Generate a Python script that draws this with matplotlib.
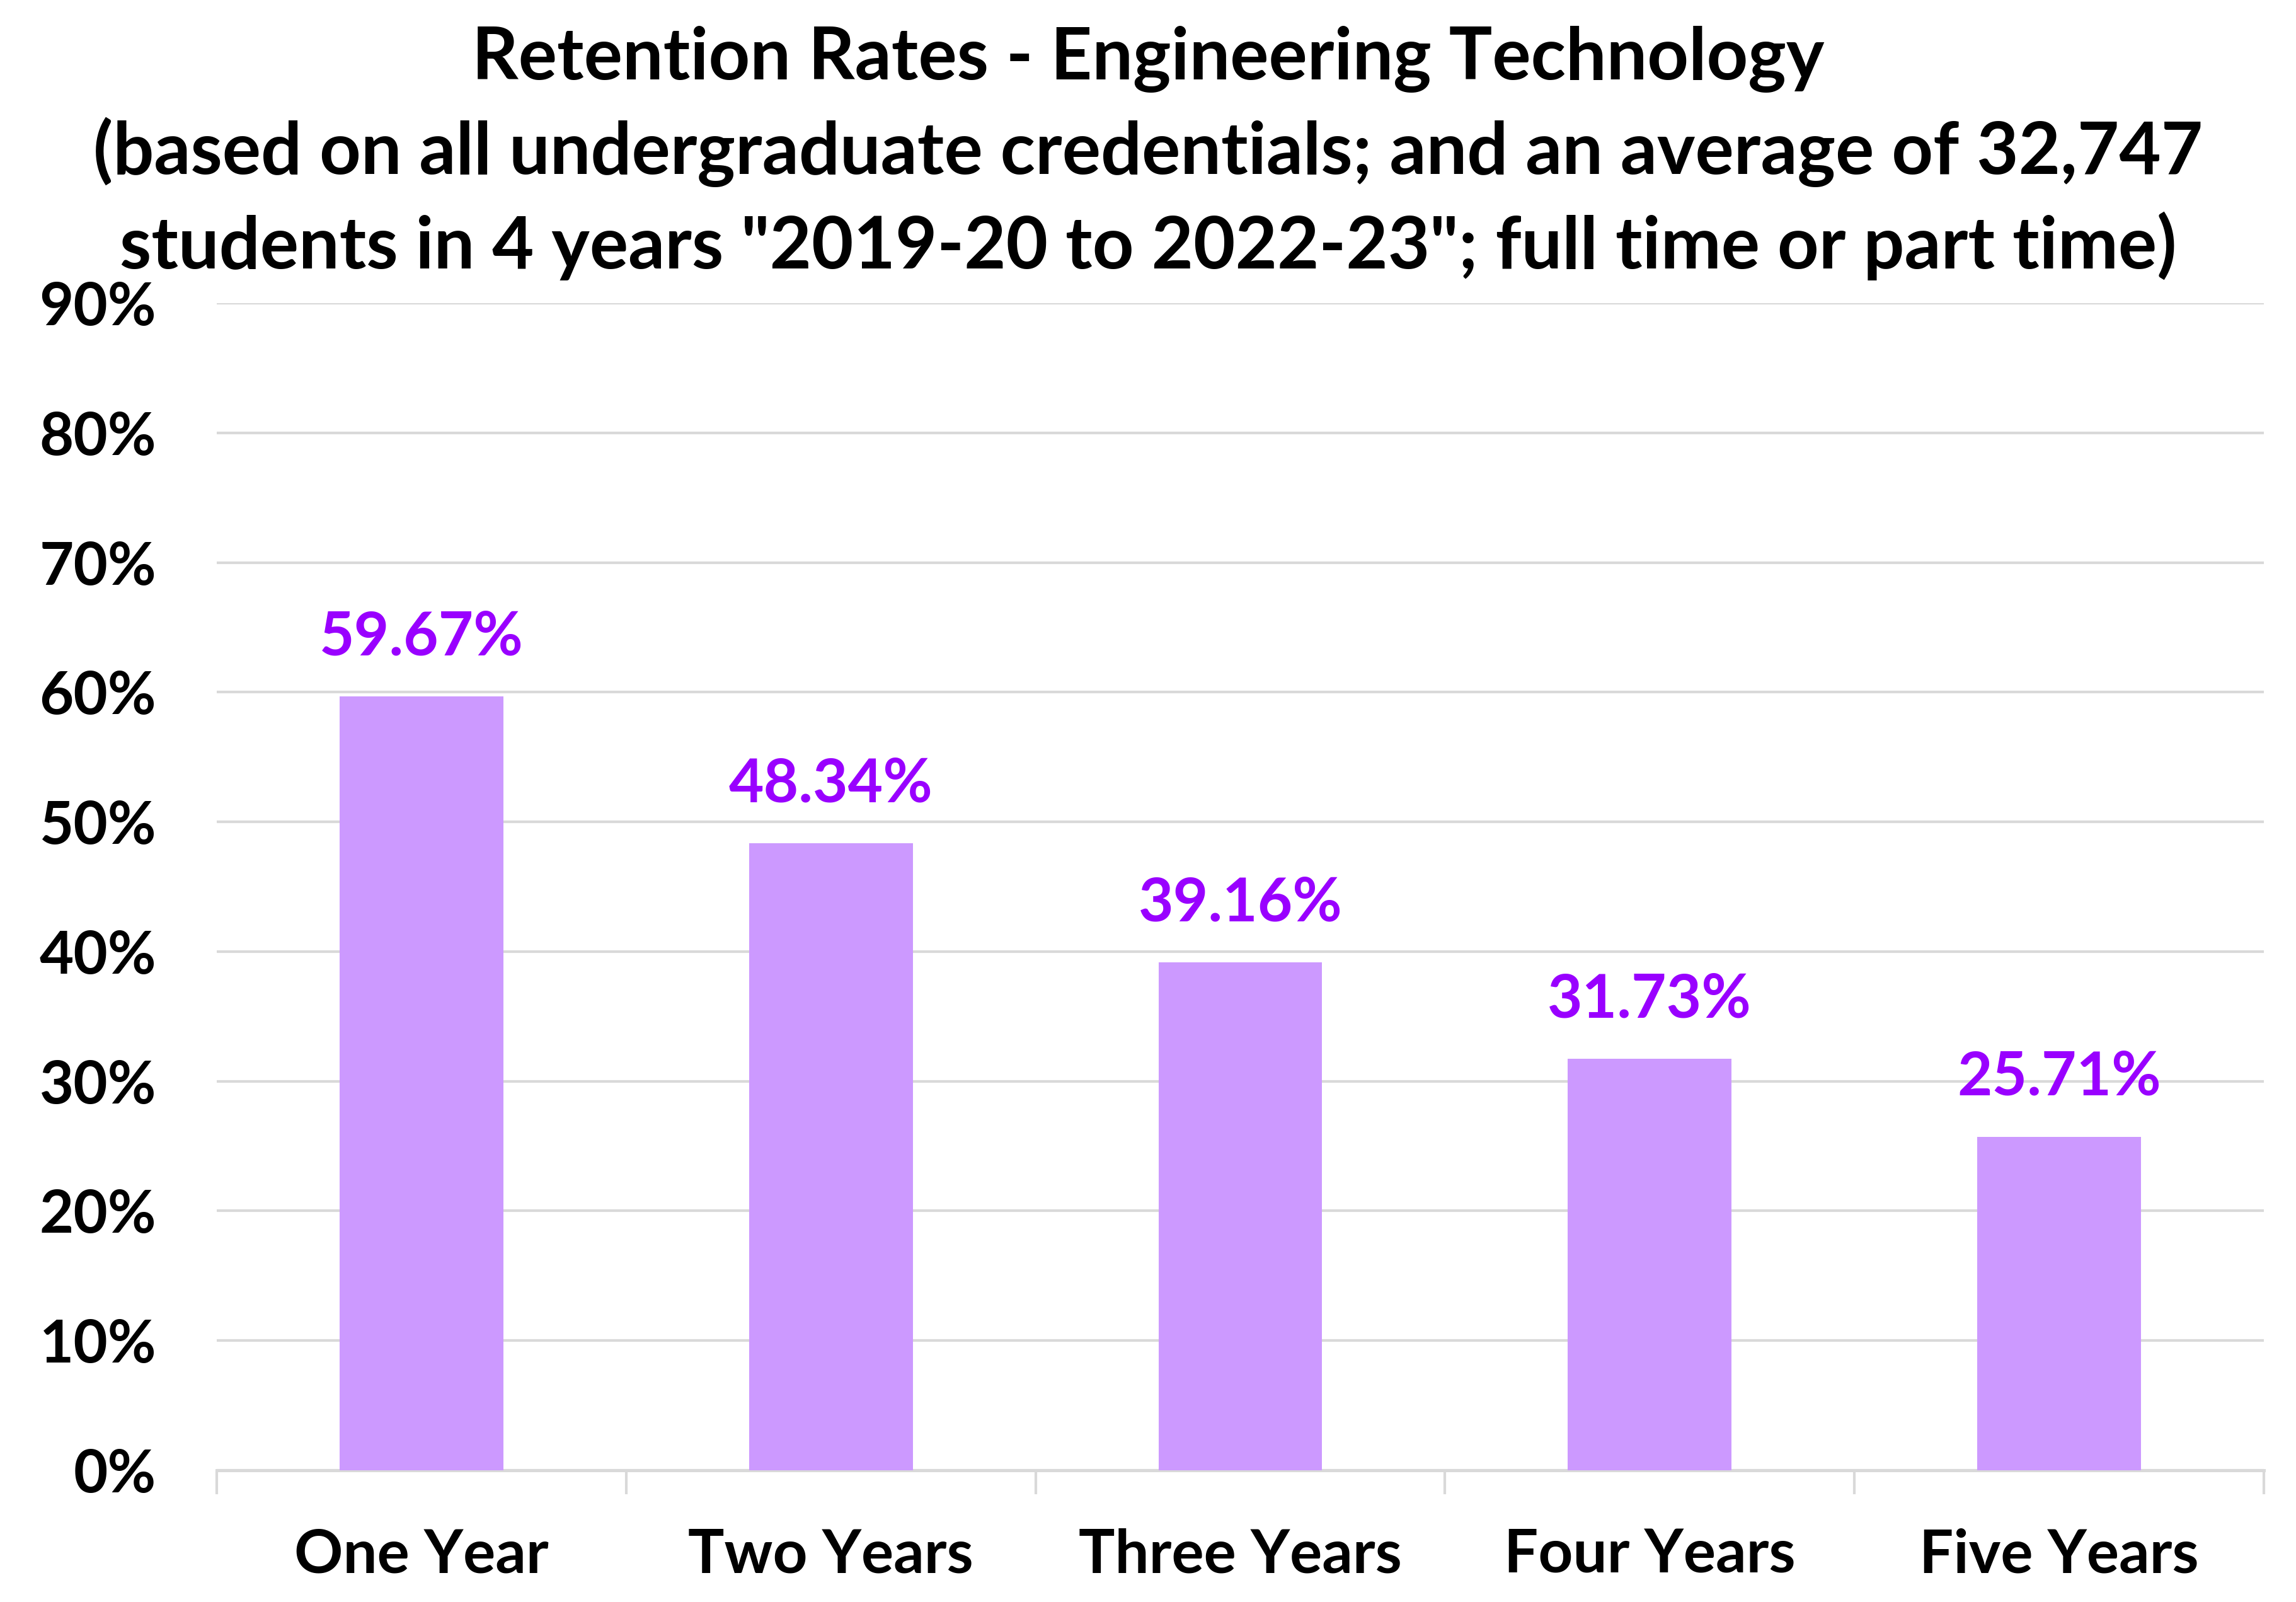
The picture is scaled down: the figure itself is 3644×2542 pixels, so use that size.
import numpy as np
import matplotlib
matplotlib.use('Agg')
import matplotlib.pyplot as plt
from matplotlib.ticker import FixedLocator, PercentFormatter

categories = ['One Year', 'Two Years', 'Three Years', 'Four Years', 'Five Years']
retention = [59.67, 48.34, 39.16, 31.73, 25.71]
y_ticks = [0, 10, 20, 30, 40, 50, 60, 70, 80, 90]

title = ('Retention Rates - Engineering Technology\n'
         '(based on all undergraduate credentials; and an average of 32,747\n'
         'students in 4 years "2019-20 to 2022-23"; full time or part time)')

plt.rcParams['font.family'] = ['Lato', 'DejaVu Sans']
plt.rcParams['font.weight'] = 'bold'

fig = plt.figure(figsize=(3644 / 300, 2542 / 300), dpi=300)
ax = fig.add_axes([0.0944, 0.0822, 0.8916, 0.7286])

x = np.arange(len(categories))
ax.bar(x, retention, width=0.4, color='#CC99FF', zorder=3)

# value labels above each bar
for xi, v in zip(x, retention):
    ax.annotate(f'{v:.2f}%', (xi, v), xytext=(0, 12), textcoords='offset points',
                ha='center', va='bottom', color='#9900FF', fontsize=23, fontweight='bold')

ax.set_xlim(-0.5, len(categories) - 0.5)
ax.set_ylim(0, 90)
ax.set_yticks(y_ticks)
ax.yaxis.set_major_formatter(PercentFormatter(decimals=0))
ax.grid(axis='y', color='#D9D9D9', linewidth=1.0, zorder=0)

ax.set_xticks(x)
ax.set_xticklabels(categories)
ax.xaxis.set_minor_locator(FixedLocator(np.arange(len(categories) + 1) - 0.5))
ax.tick_params(axis='x', which='major', length=0, pad=22, labelsize=23)
ax.tick_params(axis='x', which='minor', length=9, width=1.0, color='#D9D9D9')
ax.tick_params(axis='y', length=0, pad=23, labelsize=22.5)

for s in ['top', 'right', 'left']:
    ax.spines[s].set_visible(False)
ax.spines['bottom'].set_color('#D9D9D9')
ax.spines['bottom'].set_linewidth(1.2)

fig.suptitle(title, y=0.984, va='top', fontsize=27.5, fontweight='bold', linespacing=1.43)

fig.savefig('out.png', dpi=300, facecolor='white')
